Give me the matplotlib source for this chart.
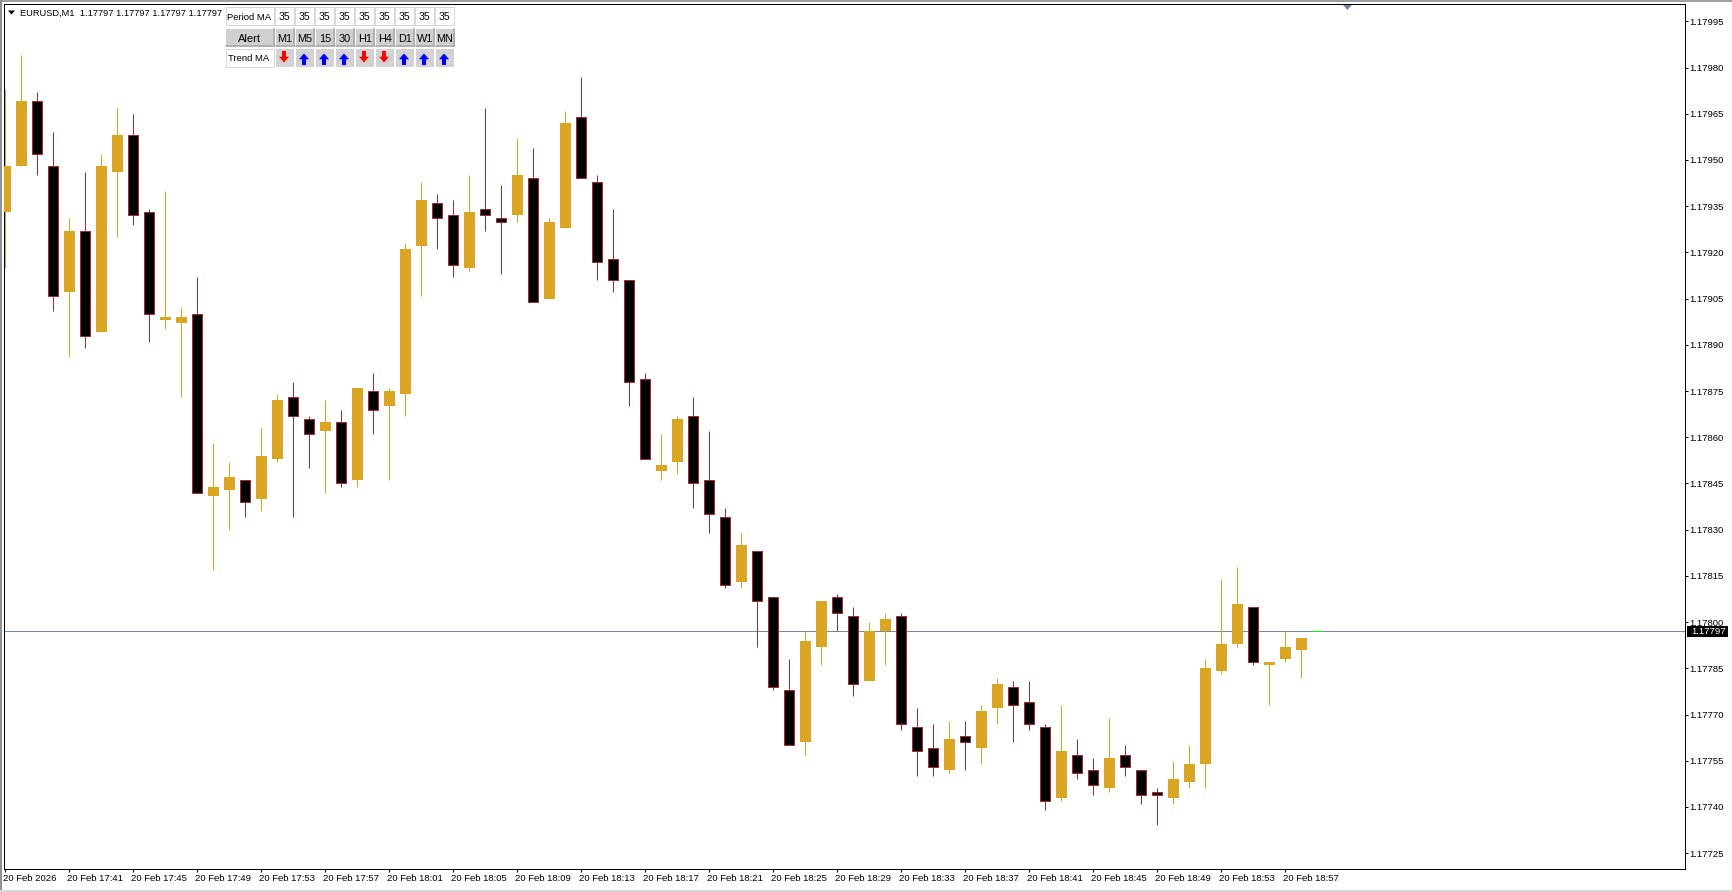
"""
EURUSD M1 chart with the little MA trend panel in the corner
"""
import matplotlib
matplotlib.use('Agg')
import numpy as np
import matplotlib.pyplot as plt
from matplotlib.patches import Rectangle, Polygon
from matplotlib.transforms import ScaledTranslation

"""candles, oldest first"""
opens = [1.17933, 1.17948, 1.17969, 1.17948, 1.17907, 1.17927, 1.17894, 1.17946, 1.17958, 1.17933,
         1.17898, 1.17897, 1.17900, 1.17841, 1.17843, 1.17846, 1.17840, 1.17853, 1.17873, 1.17866,
         1.17862, 1.17865, 1.17846, 1.17875, 1.17870, 1.17874, 1.17922, 1.17936, 1.17932, 1.17915,
         1.17934, 1.17931, 1.17932, 1.17944, 1.17905, 1.17928, 1.17964, 1.17943, 1.17918, 1.17911,
         1.17879, 1.17849, 1.17852, 1.17867, 1.17846, 1.17834, 1.17813, 1.17823, 1.17808, 1.17778,
         1.17761, 1.17792, 1.17808, 1.17802, 1.17781, 1.17797, 1.17802, 1.17766, 1.17759, 1.17752,
         1.17763, 1.17759, 1.17772, 1.17779, 1.17774, 1.17766, 1.17743, 1.17757, 1.17752, 1.17746,
         1.17757, 1.17752, 1.17745, 1.17743, 1.17748, 1.17754, 1.17784, 1.17793, 1.17805, 1.17786,
         1.17788, 1.17791, 1.17797]
highs = [1.17973, 1.17984, 1.17972, 1.17959, 1.17931, 1.17946, 1.17952, 1.17967, 1.17965, 1.17934,
         1.17940, 1.17902, 1.17912, 1.17858, 1.17852, 1.17846, 1.17863, 1.17874, 1.17878, 1.17867,
         1.17872, 1.17869, 1.17876, 1.17881, 1.17876, 1.17923, 1.17943, 1.17939, 1.17937, 1.17945,
         1.17967, 1.17942, 1.17957, 1.17954, 1.17931, 1.17966, 1.17977, 1.17945, 1.17934, 1.17911,
         1.17881, 1.17861, 1.17867, 1.17873, 1.17862, 1.17837, 1.17829, 1.17823, 1.17808, 1.17788,
         1.17797, 1.17807, 1.17809, 1.17805, 1.17800, 1.17803, 1.17803, 1.17772, 1.17767, 1.17768,
         1.17768, 1.17773, 1.17782, 1.17781, 1.17781, 1.17767, 1.17773, 1.17762, 1.17756, 1.17769,
         1.17760, 1.17752, 1.17746, 1.17755, 1.17760, 1.17788, 1.17814, 1.17818, 1.17805, 1.17787,
         1.17797, 1.17795, 1.17797]
lows = [1.17915, 1.17948, 1.17945, 1.17901, 1.17886, 1.17889, 1.17894, 1.17925, 1.17929, 1.17891,
        1.17895, 1.17873, 1.17842, 1.17817, 1.17830, 1.17834, 1.17836, 1.17852, 1.17834, 1.17850,
        1.17842, 1.17844, 1.17844, 1.17861, 1.17846, 1.17867, 1.17906, 1.17921, 1.17912, 1.17914,
        1.17927, 1.17913, 1.17930, 1.17904, 1.17905, 1.17928, 1.17944, 1.17911, 1.17907, 1.17870,
        1.17853, 1.17846, 1.17848, 1.17837, 1.17829, 1.17811, 1.17811, 1.17792, 1.17778, 1.17760,
        1.17757, 1.17786, 1.17797, 1.17776, 1.17781, 1.17786, 1.17765, 1.17750, 1.17750, 1.17751,
        1.17752, 1.17754, 1.17767, 1.17761, 1.17765, 1.17739, 1.17742, 1.17749, 1.17744, 1.17745,
        1.17750, 1.17741, 1.17734, 1.17741, 1.17746, 1.17746, 1.17783, 1.17792, 1.17786, 1.17773,
        1.17787, 1.17782, 1.17797]
closes = [1.17948, 1.17969, 1.17952, 1.17906, 1.17927, 1.17893, 1.17948, 1.17958, 1.17932, 1.17900,
          1.17899, 1.17899, 1.17842, 1.17844, 1.17847, 1.17839, 1.17854, 1.17872, 1.17867, 1.17861,
          1.17865, 1.17845, 1.17876, 1.17869, 1.17875, 1.17921, 1.17937, 1.17931, 1.17916, 1.17933,
          1.17932, 1.17930, 1.17945, 1.17904, 1.17930, 1.17962, 1.17944, 1.17917, 1.17911, 1.17878,
          1.17853, 1.17851, 1.17866, 1.17845, 1.17835, 1.17812, 1.17825, 1.17807, 1.17779, 1.17760,
          1.17794, 1.17807, 1.17803, 1.17780, 1.17797, 1.17801, 1.17767, 1.17758, 1.17753, 1.17762,
          1.17761, 1.17771, 1.17780, 1.17773, 1.17767, 1.17742, 1.17758, 1.17751, 1.17747, 1.17756,
          1.17753, 1.17744, 1.17744, 1.17749, 1.17754, 1.17785, 1.17793, 1.17806, 1.17787, 1.17787,
          1.17792, 1.17795, 1.17797]

last_price = 1.17797
price_ticks = [1.17995, 1.17980, 1.17965, 1.17950, 1.17935, 1.17920, 1.17905, 1.17890, 1.17875, 1.17860,
               1.17845, 1.17830, 1.17815, 1.17800, 1.17785, 1.17770, 1.17755, 1.17740, 1.17725]
time_labels = ['20 Feb 2026', '20 Feb 17:41', '20 Feb 17:45', '20 Feb 17:49', '20 Feb 17:53',
               '20 Feb 17:57', '20 Feb 18:01', '20 Feb 18:05', '20 Feb 18:09', '20 Feb 18:13',
               '20 Feb 18:17', '20 Feb 18:21', '20 Feb 18:25', '20 Feb 18:29', '20 Feb 18:33',
               '20 Feb 18:37', '20 Feb 18:41', '20 Feb 18:45', '20 Feb 18:49', '20 Feb 18:53',
               '20 Feb 18:57']
bars_per_label = 4

"""panel"""
period_ma = ['35', '35', '35', '35', '35', '35', '35', '35', '35']
timeframes = ['M1', 'M5', '15', '30', 'H1', 'H4', 'D1', 'W1', 'MN']
trend_ma = ['down', 'up', 'up', 'up', 'down', 'down', 'up', 'up', 'up']
header = 'EURUSD,M1  1.17797 1.17797 1.17797 1.17797'

"""colours"""
GOLD = '#DAA520'
BROWN = '#A52A2A'
SLATE = '#778899'

plt.rcParams['font.family'] = ['Liberation Sans', 'DejaVu Sans']
W, H = 1733, 892
PX = 72 / 100  # one pixel in points
FS = 6.8

fig = plt.figure(figsize=(W / 100, H / 100), dpi=100, facecolor='white')

# chart frame, placed in pixels. the .2 keeps agg snapping on the right pixel row
left, right, top, bottom = 4.2, 1685.2, 4.2, 869.2
ax = fig.add_axes([left / W, 1 - bottom / H, (right - left) / W, (bottom - top) / H])

# 16 px per bar, about 3.08 px per point
px_bar = 16.0
px_point = 3.081
ax.set_xlim((left - 5.2) / px_bar, (right - 5.2) / px_bar)
ax.set_ylim(1.17995 - (bottom - 21.3) / px_point * 1e-5, 1.17995 + (21.3 - top) / px_point * 1e-5)

o = np.array(opens)
h = np.array(highs)
l = np.array(lows)
c = np.array(closes)
x = np.arange(len(o))
up = c > o
down = c < o
flat = c == o

ax.axhline(last_price, color=SLATE, lw=PX, zorder=1)

ax.vlines(x[up], l[up], h[up], color=GOLD, lw=PX, zorder=2)
ax.vlines(x[down], l[down], h[down], color=BROWN, lw=PX, zorder=2)
ax.bar(x[up], (c - o)[up], bottom=o[up], width=11 / px_bar, color=GOLD, lw=0, zorder=3)
ax.bar(x[down], (c - o)[down], bottom=o[down], width=10 / px_bar, color='black',
       edgecolor=BROWN, lw=PX, zorder=3)
ax.hlines(c[flat], x[flat] - 5.5 / px_bar, x[flat] + 5.5 / px_bar, color='#00FF00', lw=PX, zorder=3)

for s in ax.spines.values():
    s.set_linewidth(PX)
    s.set_color('black')

ax.yaxis.tick_right()
ax.set_yticks(price_ticks)
ax.set_yticklabels(['%.5f' % p for p in price_ticks])
ax.set_xticks(x[::bars_per_label][:len(time_labels)])
ax.set_xticklabels(time_labels, ha='left')
ax.tick_params(axis='y', length=3 * PX, width=PX, pad=1 * PX, labelsize=FS, color='black')
ax.tick_params(axis='x', length=3 * PX, width=PX, pad=2 * PX, labelsize=FS, color='black')
for lbl in ax.get_xticklabels():
    lbl.set_transform(lbl.get_transform() + ScaledTranslation(-2 / 100, 0, fig.dpi_scale_trans))

# everything around the chart is drawn in pixel coordinates
ov = fig.add_axes([0, 0, 1, 1], zorder=5)
ov.set_xlim(0, W)
ov.set_ylim(H, 0)
ov.axis('off')
ov.patch.set_alpha(0)


def box(x0, y0, x1, y1, face, edge='none', lw=0.0, z=1):
    ov.add_patch(Rectangle((x0, y0), x1 - x0, y1 - y0, facecolor=face, edgecolor=edge, linewidth=lw, zorder=z))


def bevel(x0, y0, x1, y1):
    box(x0, y0, x1, y1, '#D0D0D0')
    ov.plot([x0, x1 - 1, x1 - 1], [y1 - 1, y1 - 1, y0], color='#A8A8A8', lw=1.5 * PX, zorder=2, solid_joinstyle='miter')


def arrow(cx, y0, y1, color, pointing):
    # wingdings style fat arrow
    tip, base = (y1, y0) if pointing == 'down' else (y0, y1)
    mid = tip + (base - tip) * 0.5
    pts = [(cx, tip), (cx + 5, mid), (cx + 2, mid), (cx + 2, base),
           (cx - 2, base), (cx - 2, mid), (cx - 5, mid)]
    ov.add_patch(Polygon(pts, closed=True, facecolor=color, edgecolor='none', zorder=3))


# window edges
box(0, 0, W, 1.5, '#A0A0A0')
box(0, 0, 2, H, '#909090')
box(0, 890, W, H, '#D8D8D8')

# header
ov.add_patch(Polygon([(8, 10.5), (15, 10.5), (11.5, 14.5)], closed=True, facecolor='black', edgecolor='none'))
ov.text(20, 13.2, header, fontsize=FS - 0.1, ha='left', va='center', color='black')

# shift marker on the top edge
ov.add_patch(Polygon([(1343, 5), (1352, 5), (1347.5, 10)], closed=True, facecolor=SLATE, edgecolor='none'))

# panel
cell = 20
panel_x = 275.5
box(226, 7, 274, 25, 'white', '#D8D8D8', PX)
ov.text(249.5, 17, 'Period MA', fontsize=FS, ha='center', va='center')
bevel(226, 29, 275, 47)
ov.text(249.5, 39, 'Alert', fontsize=FS + 1.2, ha='center', va='center')
box(226, 49, 274, 67, 'white', '#D8D8D8', PX)
ov.text(249, 58.7, 'Trend MA', fontsize=FS, ha='center', va='center')

for i in range(len(period_ma)):
    x0 = panel_x + i * cell
    box(x0, 7, x0 + 18.5, 25, 'white', '#D8D8D8', PX)
    ov.text(x0 + 8.5, 16.5, period_ma[i], fontsize=FS + 0.8, ha='center', va='center')
    bevel(x0 + 1, 29, x0 + 19.5, 47)
    ov.text(x0 + 9.5, 39, timeframes[i], fontsize=FS + 1.0, ha='center', va='center')
    box(x0 + 0.5, 49, x0 + 18.5, 67, '#D3D3D3')
    if trend_ma[i] == 'down':
        arrow(x0 + 8.5, 51, 62.5, '#FF0000', 'down')
    else:
        arrow(x0 + 8.5, 53.5, 65, '#0000FF', 'up')

# current price tag
box(1687, 626, 1728, 637, 'black')
ov.text(1691.3, 631.5, '%.5f' % last_price, fontsize=FS, color='white', ha='left', va='center')

fig.savefig('out.png', dpi=100, facecolor='white')
